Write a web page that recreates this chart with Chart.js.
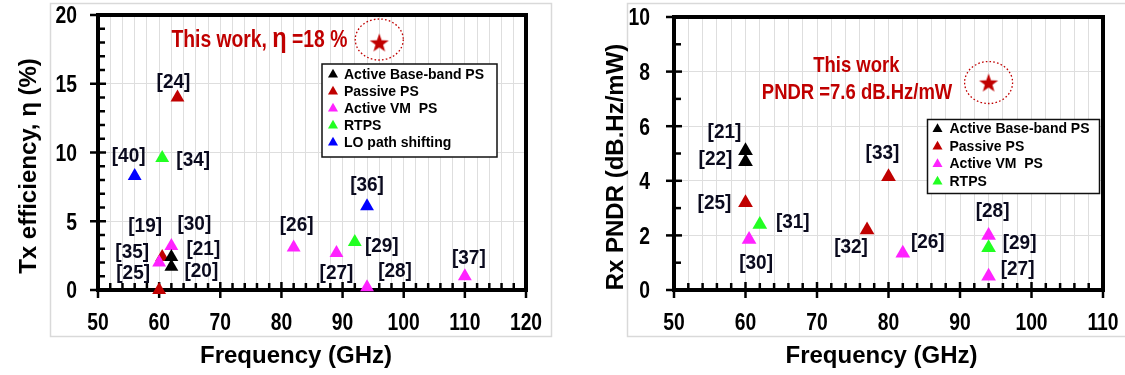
<!DOCTYPE html>
<html>
<head>
<meta charset="utf-8">
<script src="https://cdn.jsdelivr.net/npm/chart.js@4.4.1/dist/chart.umd.min.js"></script>
<style>
  html, body { margin: 0; padding: 0; background: #ffffff; }
  body { width: 1125px; height: 375px; position: relative; overflow: hidden; }
  .panel { position: absolute; top: 0; }
  #panelTx { left: 0; }
  #panelRx { left: 560px; }
</style>
</head>
<body>
<div class="panel" id="panelTx"><canvas id="txChart" width="560" height="375"></canvas></div>
<div class="panel" id="panelRx"><canvas id="rxChart" width="565" height="375"></canvas></div>
<script>
// ---------- Tx efficiency vs frequency ----------
const txBasebandFreq = [62, 62];
const txBasebandEff  = [2.4, 1.7];
const txBasebandRefs = ['[21]', '[20]'];

const txPassiveFreq = [63, 60.5, 60];
const txPassiveEff  = [14, 2.4, 0];
const txPassiveRefs = ['[24]', '[35]', '[25]'];

const txVmFreq = [62, 60, 82, 89, 94, 110];
const txVmEff  = [3.2, 2.0, 3.1, 2.7, 0.2, 1.0];
const txVmRefs = ['[30]', '[19]', '[26]', '[27]', '[28]', '[37]'];

const txRtpsFreq = [60.5, 92];
const txRtpsEff  = [9.6, 3.5];
const txRtpsRefs = ['[34]', '[29]'];

const txLoFreq = [56, 94];
const txLoEff  = [8.3, 6.1];
const txLoRefs = ['[40]', '[36]'];

const txThisWorkFreq = [96];
const txThisWorkEff  = [18];

const txFreqTicks = [50, 60, 70, 80, 90, 100, 110, 120];
const txEffTicks  = [0, 5, 10, 15, 20];

// ---------- Rx PNDR vs frequency ----------
const rxBasebandFreq = [60, 60];
const rxBasebandPndr = [5.1, 4.7];
const rxBasebandRefs = ['[21]', '[22]'];

const rxPassiveFreq = [60, 77, 80];
const rxPassivePndr = [3.2, 2.2, 4.15];
const rxPassiveRefs = ['[25]', '[32]', '[33]'];

const rxVmFreq = [60.5, 82, 94, 94];
const rxVmPndr = [1.85, 1.35, 2.0, 0.5];
const rxVmRefs = ['[30]', '[26]', '[28]', '[27]'];

const rxRtpsFreq = [62, 94];
const rxRtpsPndr = [2.4, 1.55];
const rxRtpsRefs = ['[31]', '[29]'];

const rxThisWorkFreq = [94];
const rxThisWorkPndr = [7.6];

const rxFreqTicks = [50, 60, 70, 80, 90, 100, 110];
const rxPndrTicks = [0, 2, 4, 6, 8, 10];

// Pixel nudges of each reference tag from its marker (same order as the refs above)
const txTagNudge = {
  baseband: [[32, -8], [30, 5]],
  passive:  [[-4, -15], [-30, -5], [-26, -17]],
  vm:       [[23, -22], [-14, -36], [3, -22], [0, 21], [28, -16], [4, -18]],
  rtps:     [[31, 2], [27, 5]],
  lo:       [[-6, -19], [0, -21]]
};
const rxTagNudge = {
  baseband: [[-21, -18], [-30, -2]],
  passive:  [[-31, 1], [-16, 18], [-6, -23]],
  vm:       [[7, 24], [25, -11], [4, -24], [29, -7]],
  rtps:     [[33, -2], [31, -4]]
};

// ---------- styling ----------
const SANS = "'Liberation Sans', Arial, Helvetica, sans-serif";
const SQUEEZE = 0.84;   // horizontal compression for the narrow-looking texts
const COL = {
  baseband: '#000000',
  passive:  '#c00000',
  vm:       '#ff22ff',
  rtps:     '#22ff22',
  lo:       '#0000ff',
  star:     '#c00000',
  grid:     '#dedede',
  frame:    '#d9d9d9',
  tag:      '#0a0a1e'
};

function makeStar(R, color) {
  const c = document.createElement('canvas');
  const s = Math.ceil(R * 2 + 2);
  c.width = s; c.height = s;
  const g = c.getContext('2d');
  g.fillStyle = color;
  g.beginPath();
  for (let i = 0; i < 10; i++) {
    const r = (i % 2) ? R * 0.4 : R;
    const a = -Math.PI / 2 + i * Math.PI / 5;
    g.lineTo(s / 2 + r * Math.cos(a), s / 2 + r * Math.sin(a) + R * 0.1);
  }
  g.closePath();
  g.fill();
  return c;
}

function pts(xs, ys) { return xs.map((x, i) => ({ x: x, y: ys[i] })); }

function series(label, color, xs, ys, refs, nudge, order, radius) {
  return {
    label: label,
    data: pts(xs, ys),
    refs: refs,
    nudge: nudge,
    pointStyle: 'triangle',
    pointRadius: radius,
    pointHoverRadius: radius,
    backgroundColor: color,
    borderColor: color,
    borderWidth: 0,
    showLine: false,
    clip: false,
    order: order
  };
}

function starSeries(xs, ys) {
  return {
    label: 'This work',
    isStar: true,
    data: pts(xs, ys),
    pointStyle: makeStar(10, COL.star),
    pointRadius: 10,
    backgroundColor: COL.star,
    borderColor: COL.star,
    showLine: false,
    clip: false,
    order: -1
  };
}

function drawTri(ctx, x, y, r, color) {
  ctx.save();
  ctx.fillStyle = color;
  ctx.beginPath();
  for (let i = 0; i < 3; i++) {
    const a = -Math.PI / 2 + i * 2 * Math.PI / 3;
    ctx.lineTo(x + r * Math.cos(a), y + r * Math.sin(a));
  }
  ctx.closePath();
  ctx.fill();
  ctx.restore();
}

// text drawn with a horizontal squeeze, anchored at (x, y)
function squeezed(ctx, text, x, y, align, sx) {
  ctx.save();
  ctx.translate(x, y);
  ctx.scale(sx, 1);
  ctx.textAlign = align;
  ctx.fillText(text, 0, 0);
  ctx.restore();
}

// Frame, axis box, tick marks and labels, legend, tags, annotations and axis titles
function decorPlugin(cfg) {
  return {
    id: 'decor',
    beforeDatasetsDraw(chart) {
      const ctx = chart.ctx;
      const a = chart.chartArea;
      const xs = chart.scales.x, ys = chart.scales.y;
      ctx.save();
      // light outer frame
      ctx.strokeStyle = COL.frame;
      ctx.lineWidth = 1.5;
      ctx.strokeRect(cfg.frame[0], cfg.frame[1], cfg.frame[2], cfg.frame[3]);
      // tick marks
      ctx.strokeStyle = '#000';
      ctx.lineWidth = 2.5;
      ctx.lineCap = 'butt';
      for (let v = xs.min; v <= xs.max + 1e-9; v += cfg.xMinor) {
        const px = xs.getPixelForValue(v);
        const major = cfg.xMajor.includes(v);
        ctx.beginPath();
        ctx.moveTo(px, a.bottom + (major ? 8 : 1));
        ctx.lineTo(px, a.bottom - (major ? 8 : 7));
        ctx.stroke();
      }
      for (let v = ys.min; v <= ys.max + 1e-9; v += cfg.yMinor) {
        const py = ys.getPixelForValue(v);
        const major = cfg.yMajor.includes(v);
        ctx.beginPath();
        ctx.moveTo(a.left - (major ? 8 : 1), py);
        ctx.lineTo(a.left + (major ? 8 : 7), py);
        ctx.stroke();
      }
      // heavy plot box
      ctx.lineWidth = 4;
      ctx.strokeRect(a.left, a.top, a.right - a.left, a.bottom - a.top);
      // tick labels
      ctx.fillStyle = '#000';
      ctx.font = 'bold 23px ' + SANS;
      ctx.textBaseline = 'alphabetic';
      cfg.xMajor.forEach(v => {
        squeezed(ctx, String(v), xs.getPixelForValue(v), a.bottom + 40, 'center', SQUEEZE);
      });
      cfg.yMajor.forEach(v => {
        squeezed(ctx, String(v), a.left - cfg.yLabelGap, ys.getPixelForValue(v) + 8.3, 'right', SQUEEZE);
      });
      ctx.restore();
    },
    afterDatasetsDraw(chart) {
      const ctx = chart.ctx;
      const xs = chart.scales.x, ys = chart.scales.y;
      ctx.save();
      // reference tags next to each marker
      ctx.font = 'bold 20px ' + SANS;
      ctx.fillStyle = COL.tag;
      ctx.textAlign = 'center';
      ctx.textBaseline = 'middle';
      chart.data.datasets.forEach((ds, di) => {
        if (!ds.refs) return;
        const meta = chart.getDatasetMeta(di);
        meta.data.forEach((el, i) => {
          const n = ds.nudge[i];
          squeezed(ctx, ds.refs[i], el.x + n[0], el.y + n[1], 'center', 0.95);
        });
      });
      // dotted ring round the highlighted point
      chart.data.datasets.forEach((ds, di) => {
        if (!ds.isStar) return;
        const el = chart.getDatasetMeta(di).data[0];
        ctx.save();
        ctx.strokeStyle = COL.star;
        ctx.lineWidth = 1.3;
        ctx.setLineDash([1.6, 2.2]);
        ctx.beginPath();
        ctx.ellipse(el.x + cfg.ring[0], el.y + cfg.ring[1], cfg.ring[2], cfg.ring[3], 0, 0, Math.PI * 2);
        ctx.stroke();
        ctx.restore();
      });
      // annotation text
      ctx.fillStyle = COL.star;
      ctx.textBaseline = 'alphabetic';
      cfg.notes.forEach(n => {
        const cx = xs.getPixelForValue(n.x), by = ys.getPixelForValue(n.y);
        let w = 0;
        n.parts.forEach(p => { ctx.font = p.font; w += ctx.measureText(p.text).width * SQUEEZE; });
        let x = cx - w / 2;
        n.parts.forEach(p => {
          ctx.font = p.font;
          squeezed(ctx, p.text, x, by, 'left', SQUEEZE);
          x += ctx.measureText(p.text).width * SQUEEZE;
        });
      });
      // legend box
      const L = cfg.legend;
      ctx.fillStyle = '#ffffff';
      ctx.fillRect(L.x, L.y, L.w, L.h);
      ctx.strokeStyle = '#111';
      ctx.lineWidth = 1.5;
      ctx.strokeRect(L.x, L.y, L.w, L.h);
      ctx.font = 'bold 14px ' + SANS;
      ctx.textAlign = 'left';
      ctx.textBaseline = 'middle';
      let row = 0;
      chart.data.datasets.forEach(ds => {
        if (ds.isStar) return;
        const cy = L.y + L.first + row * L.step;
        drawTri(ctx, L.x + L.mark, cy + 0.5, 5.8, ds.backgroundColor);
        ctx.fillStyle = '#000';
        ctx.fillText(ds.label, L.x + L.text, cy + 1);
        row++;
      });
      // axis titles
      ctx.fillStyle = '#000';
      ctx.font = 'bold 24px ' + SANS;
      ctx.textAlign = 'center';
      ctx.textBaseline = 'alphabetic';
      ctx.fillText(cfg.xTitle, cfg.xTitlePos[0], cfg.xTitlePos[1]);
      ctx.translate(cfg.yTitlePos[0], cfg.yTitlePos[1]);
      ctx.rotate(-Math.PI / 2);
      ctx.fillText(cfg.yTitle, 0, 0);
      ctx.restore();
    }
  };
}

function scalesFor(xMin, xMax, yMin, yMax, yGrid, yWidth) {
  return {
    x: {
      type: 'linear', min: xMin, max: xMax,
      ticks: { display: false, stepSize: 2, maxTicksLimit: 100, autoSkip: false },
      grid: { color: COL.grid, lineWidth: 1, drawTicks: false },
      border: { display: false },
      afterFit: s => { s.height = 85; }
    },
    y: {
      type: 'linear', min: yMin, max: yMax,
      ticks: { display: false, stepSize: 1, maxTicksLimit: 100, autoSkip: false },
      grid: {
        color: c => (c.tick && yGrid.includes(c.tick.value)) ? COL.grid : 'rgba(0,0,0,0)',
        lineWidth: 1, drawTicks: false
      },
      border: { display: false },
      afterFit: s => { s.width = yWidth; }
    }
  };
}

const baseOptions = {
  responsive: false,
  animation: false,
  devicePixelRatio: 1,
  plugins: { legend: { display: false }, tooltip: { enabled: false } },
  events: []
};

// Tx chart
new Chart(document.getElementById('txChart'), {
  type: 'scatter',
  data: {
    datasets: [
      series('Active Base-band PS', COL.baseband, txBasebandFreq, txBasebandEff, txBasebandRefs, txTagNudge.baseband, 0, 8),
      series('Passive PS', COL.passive, txPassiveFreq, txPassiveEff, txPassiveRefs, txTagNudge.passive, 2, 8),
      series('Active VM  PS', COL.vm, txVmFreq, txVmEff, txVmRefs, txTagNudge.vm, 1, 8),
      series('RTPS', COL.rtps, txRtpsFreq, txRtpsEff, txRtpsRefs, txTagNudge.rtps, 3, 8),
      series('LO path shifting', COL.lo, txLoFreq, txLoEff, txLoRefs, txTagNudge.lo, 4, 8),
      starSeries(txThisWorkFreq, txThisWorkEff)
    ]
  },
  options: Object.assign({}, baseOptions, {
    layout: { padding: { left: 0, top: 15, right: 34, bottom: 0 } },
    scales: scalesFor(50, 120, 0, 20, txEffTicks, 98)
  }),
  plugins: [decorPlugin({
    frame: [50.5, 3.5, 501, 333],
    xMinor: 2, xMajor: txFreqTicks,
    yMinor: 1, yMajor: txEffTicks, yLabelGap: 21,
    ring: [0, -3, 24, 20.5],
    notes: [{
      x: 76.4, y: 17.7,
      parts: [
        { text: 'This work, ', font: 'bold 23px ' + SANS },
        { text: 'η', font: 'bold 28px ' + SANS },
        { text: ' =18 %', font: 'bold 23px ' + SANS }
      ]
    }],
    legend: { x: 322, y: 64, w: 175, h: 93, first: 10, step: 17, mark: 11, text: 22 },
    xTitle: 'Frequency (GHz)', xTitlePos: [296, 363],
    yTitle: 'Tx efficiency, η (%)', yTitlePos: [36, 166]
  })]
});

// Rx chart
new Chart(document.getElementById('rxChart'), {
  type: 'scatter',
  data: {
    datasets: [
      series('Active Base-band PS', COL.baseband, rxBasebandFreq, rxBasebandPndr, rxBasebandRefs, rxTagNudge.baseband, 1, 8.5),
      series('Passive PS', COL.passive, rxPassiveFreq, rxPassivePndr, rxPassiveRefs, rxTagNudge.passive, 2, 8.5),
      series('Active VM  PS', COL.vm, rxVmFreq, rxVmPndr, rxVmRefs, rxTagNudge.vm, 3, 8.5),
      series('RTPS', COL.rtps, rxRtpsFreq, rxRtpsPndr, rxRtpsRefs, rxTagNudge.rtps, 0, 8.5),
      starSeries(rxThisWorkFreq, rxThisWorkPndr)
    ]
  },
  options: Object.assign({}, baseOptions, {
    layout: { padding: { left: 0, top: 17, right: 22, bottom: 0 } },
    scales: scalesFor(50, 110, 0, 10, rxPndrTicks, 114)
  }),
  plugins: [decorPlugin({
    frame: [67.5, 3.5, 510, 333],
    xMinor: 2, xMajor: rxFreqTicks,
    yMinor: 1, yMajor: rxPndrTicks, yLabelGap: 24,
    ring: [0, 0, 24, 21],
    notes: [
      { x: 75.5, y: 8.0, parts: [{ text: 'This work', font: 'bold 22px ' + SANS }] },
      { x: 75.6, y: 7.0, parts: [{ text: 'PNDR =7.6 dB.Hz/mW', font: 'bold 22px ' + SANS }] }
    ],
    legend: { x: 367.5, y: 119.5, w: 172, h: 74, first: 9, step: 17.5, mark: 10, text: 22 },
    xTitle: 'Frequency (GHz)', xTitlePos: [321.5, 363],
    yTitle: 'Rx PNDR (dB.Hz/mW)', yTitlePos: [63, 167]
  })]
});
</script>
</body>
</html>
